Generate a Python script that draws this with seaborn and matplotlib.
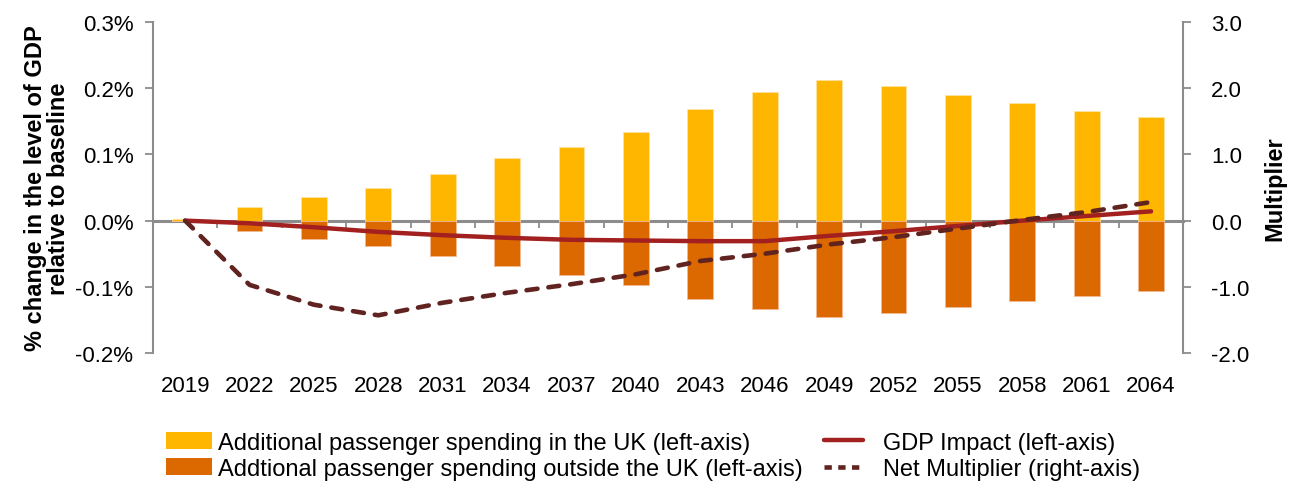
import numpy as np
import pandas as pd
import matplotlib
matplotlib.use("Agg")
import matplotlib.pyplot as plt
from matplotlib.patches import Patch
from matplotlib.lines import Line2D
from matplotlib.ticker import FuncFormatter, FixedLocator
import seaborn as sns

# ---------------- data ----------------
years = ["2019", "2022", "2025", "2028", "2031", "2034", "2037", "2040",
         "2043", "2046", "2049", "2052", "2055", "2058", "2061", "2064"]
# % change in GDP level (left axis, in percent)
spend_uk = [0.0025, 0.020, 0.036, 0.050, 0.071, 0.094, 0.111, 0.134,
            0.168, 0.195, 0.213, 0.203, 0.190, 0.178, 0.166, 0.156]
spend_outside = [0.0, -0.015, -0.028, -0.038, -0.053, -0.069, -0.082, -0.097,
                 -0.118, -0.134, -0.146, -0.139, -0.130, -0.121, -0.114, -0.106]
gdp_impact = [0.0, -0.004, -0.010, -0.017, -0.022, -0.026, -0.029, -0.030,
              -0.031, -0.031, -0.023, -0.016, -0.008, 0.000, 0.007, 0.014]
# net multiplier (right axis)
net_multiplier = [0.0, -0.97, -1.27, -1.43, -1.24, -1.09, -0.96, -0.81,
                  -0.61, -0.50, -0.36, -0.25, -0.12, 0.01, 0.13, 0.28]

labels = ["Additional passenger spending in the UK (left-axis)",
          "Addtional passenger spending outside the UK (left-axis)",
          "GDP Impact (left-axis)",
          "Net Multiplier (right-axis)"]

c_uk = "#FFB600"
c_out = "#DC6900"
c_gdp = "#A32020"
c_mult = "#602320"
c_axis = "#8C8C8C"

df = pd.DataFrame({"year": years, "uk": spend_uk, "out": spend_outside,
                   "gdp": gdp_impact, "mult": net_multiplier})

sns.set_style("white")
plt.rcParams["font.family"] = ["Liberation Sans", "DejaVu Sans"]
plt.rcParams["font.size"] = 16
plt.rcParams["text.color"] = "black"
plt.rcParams["axes.labelcolor"] = "black"
plt.rcParams["xtick.color"] = "black"
plt.rcParams["ytick.color"] = "black"

fig = plt.figure(figsize=(12.96, 4.85), dpi=100)
ax = fig.add_axes([0.118, 0.270, 0.795, 0.6826])

sns.barplot(data=df, x="year", y="uk", color=c_uk, saturation=1, width=0.4,
            edgecolor="#FFE3A0", linewidth=0.6, ax=ax, errorbar=None)
sns.barplot(data=df, x="year", y="out", color=c_out, saturation=1, width=0.4,
            edgecolor="#F2B890", linewidth=0.6, ax=ax, errorbar=None)
sns.lineplot(data=df, x="year", y="gdp", color=c_gdp, linewidth=3.2, ax=ax,
             solid_capstyle="round")

ax2 = ax.twinx()
sns.lineplot(data=df, x="year", y="mult", color=c_mult, linewidth=3.3, ax=ax2,
             dashes=False)
for ln in ax2.get_lines():
    ln.set_dashes([2.4, 2.4])
    ln.set_dash_capstyle("round")

n = len(years)
ax.set_xlim(-0.5, n - 0.5)
ax.set_ylim(-0.2, 0.3)
ax2.set_ylim(-2.0, 3.0)
ax.set_yticks(np.arange(-0.2, 0.31, 0.1))
ax2.set_yticks(np.arange(-2.0, 3.01, 1.0))
ax.yaxis.set_major_formatter(FuncFormatter(lambda v, p: f"{v:.1f}%"))
ax2.yaxis.set_major_formatter(FuncFormatter(lambda v, p: f"{v:.1f}"))

for a in (ax, ax2):
    a.set_xlabel("")
    for s in ("top", "bottom"):
        a.spines[s].set_visible(False)
    a.grid(False)
ax.spines["right"].set_visible(False)
ax2.spines["left"].set_visible(False)
ax.spines["left"].set_color(c_axis)
ax.spines["left"].set_linewidth(1.5)
ax2.spines["right"].set_color(c_axis)
ax2.spines["right"].set_linewidth(1.5)

ax.tick_params(axis="y", direction="out", length=6, width=1.3, color=c_axis,
               labelcolor="black", pad=8, labelsize=16, left=True)
ax2.tick_params(axis="y", direction="out", length=6, width=1.3, color=c_axis,
                labelcolor="black", pad=14, labelsize=16, right=True)
ax.tick_params(axis="x", length=0, pad=15.5, labelsize=16, bottom=True,
               labelcolor="black")

# zero line with category-boundary ticks
zero_frac = (0 - (-0.2)) / 0.5
sec = ax.secondary_xaxis(zero_frac)
sec.spines["bottom"].set_color(c_axis)
sec.spines["bottom"].set_linewidth(2.2)
sec.xaxis.set_major_locator(FixedLocator(np.arange(-0.5, n, 1.0)))
sec.tick_params(axis="x", direction="out", length=5, width=1.3, color=c_axis,
                labelbottom=False)

ax.set_ylabel("% change in the level of GDP\nrelative to baseline",
              fontsize=17, fontweight="bold", labelpad=4, linespacing=1.0,
              color="black")
ax2.set_ylabel("Multiplier", fontsize=17, fontweight="bold", labelpad=10,
               color="black")

bar_handles = [Patch(facecolor=c_uk, edgecolor="none"),
               Patch(facecolor=c_out, edgecolor="none")]
line_handles = [Line2D([], [], color=c_gdp, linewidth=3.2),
                Line2D([], [], color=c_mult, linewidth=3.3, dashes=[1.6, 1.4])]
common = dict(loc="upper left", frameon=False, fontsize=17, labelspacing=0.18,
              borderpad=0, borderaxespad=0)
fig.legend(bar_handles, labels[:2], bbox_to_anchor=(0.128, 0.108),
           handlelength=1.95, handleheight=0.75, handletextpad=0.25, **common)
fig.legend(line_handles, labels[2:], bbox_to_anchor=(0.636, 0.108),
           handlelength=1.65, handletextpad=0.85, **common)

fig.savefig("out.png", dpi=100)
